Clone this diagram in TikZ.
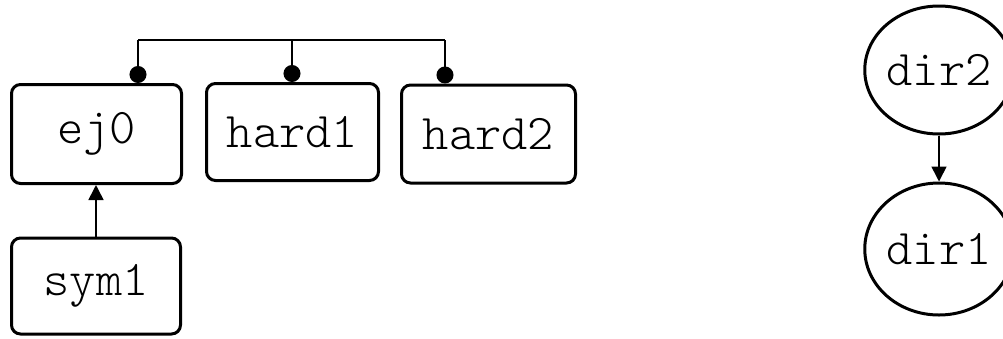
\documentclass[tikz,border=0pt]{standalone}
\usetikzlibrary{arrows.meta,shapes.geometric}
\tikzset{
  label font/.style={font=\ttfamily\fontseries{l}\fontsize{50}{50}\selectfont},
  box/.style={draw, line width=3pt, rounded corners=9pt, inner sep=0pt, label font},
  oval/.style={draw, ellipse, line width=3pt, inner sep=0pt,
    minimum width=142pt, minimum height=128pt, label font},
  link/.style={line width=1.6pt},
  dotlink/.style={link, -{Circle[length=17pt]}},
  arrowlink/.style={link, -{Triangle[length=15pt,width=15pt]}}
}
\begin{document}
\begin{tikzpicture}[x=1pt,y=-1pt]
  \useasboundingbox (0,0) rectangle (1003,338);

  % left group: boxes
  \node[box, minimum width=170pt, minimum height=99pt] (ej0)   at (96.5,134) {ej0};
  \node[box, minimum width=172pt, minimum height=97pt] (hard1) at (292.5,132) {hard1};
  \node[box, minimum width=174pt, minimum height=98pt] (hard2) at (488.5,134) {hard2};
  \node[box, minimum width=169pt, minimum height=96pt] (sym1)  at (96,286) {sym1};

  % bus joining the three boxes
  \coordinate (busA) at (138,40);
  \coordinate (busB) at (292,40);
  \coordinate (busC) at (445,40);
  \draw[link] (busA) -- (busC);
  \draw[dotlink] (busA) -- (busA |- ej0.north);
  \draw[dotlink] (busB) -- (busB |- hard1.north);
  \draw[dotlink] (busC) -- (busC |- hard2.north);

  \draw[arrowlink] (sym1.north) -- (sym1.north |- ej0.south);

  % right group: ovals
  \node[oval] (dir2) at (939,70) {dir2};
  \node[oval, minimum height=132pt] (dir1) at (939,249) {dir1};
  \draw[arrowlink] (dir2.south) -- (dir1.north);
\end{tikzpicture}
\end{document}
